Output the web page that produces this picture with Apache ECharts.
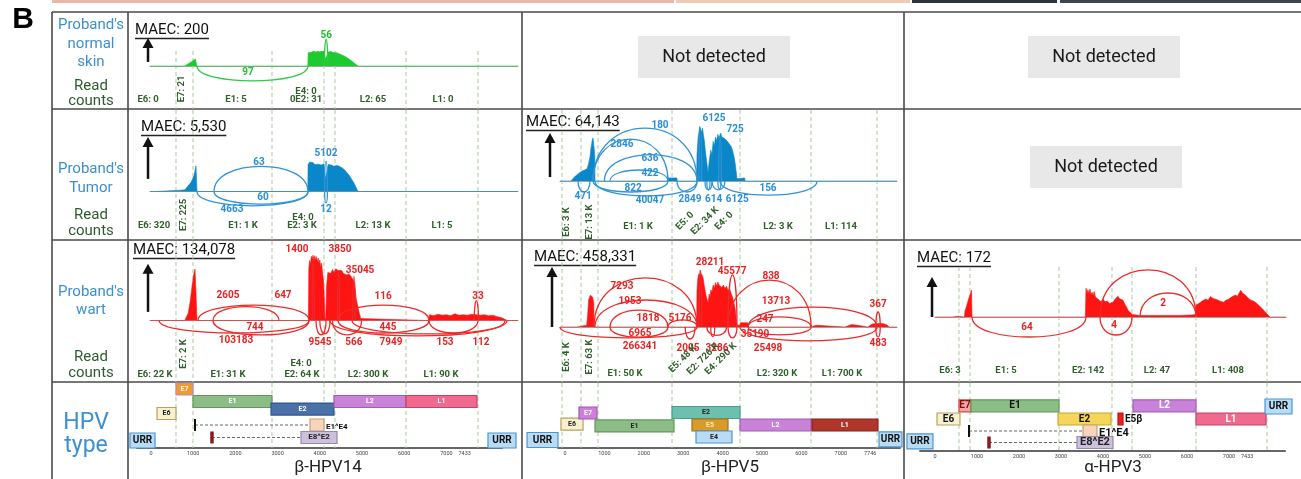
<!DOCTYPE html>
<html>
<head>
<meta charset="utf-8">
<script src="https://cdn.jsdelivr.net/npm/echarts@6/dist/echarts.min.js"></script>
<style>
html, body { margin: 0; padding: 0; background: #fff; }
#chart { width: 1301px; height: 479px; }
</style>
</head>
<body>
<div id="chart"></div>
<script>
// ---------- data (genome position in bp, coverage / arc height in % of MAEC arrow) ----------

// dashed exon boundaries per genome
var guides14 = [592, 995, 2867, 4100, 4360, 6043, 7749];
var guides5 = [-76, 406, 838, 2716, 4442, 6244, 7919];
var guides3 = [571, 833, 2952, 4214, 4690, 6214, 7905];

// coverage profiles [pos, height]
var covSkin14 = [[-24,0],[800,0],[850,6],[950,17],[1050,29],[1075,34],[1090,0],[3715,0],[3725,55],[3760,60],[3800,57],[3850,62],[3900,58],[3950,61],[4000,59],[4050,62],[4100,60],[4130,30],[4160,40],[4200,58],[4260,60],[4320,56],[4400,55],[4500,48],[4600,40],[4700,28],[4800,15],[4905,0],[8697,0]];
var covTumor14 = [[-24,0],[95,0],[100,2],[700,3],[806,4],[850,10],[950,22],[1020,38],[1066,61],[1090,0],[3715,0],[3722,64],[3760,70],[3800,66],[3840,69],[3880,64],[3920,68],[3960,65],[4000,68],[4040,63],[4100,66],[4130,30],[4165,45],[4200,64],[4240,61],[4280,63],[4330,60],[4400,62],[4450,61],[4500,58],[4550,55],[4600,50],[4650,44],[4700,38],[4750,30],[4800,22],[4850,12],[4905,0],[8697,0]];
var covWart14 = [[-24,0],[800,0],[830,4],[880,15],[930,40],[970,70],[1010,95],[1043,107],[1065,60],[1090,0],[3730,0],[3740,110],[3760,125],[3780,118],[3800,134],[3820,128],[3840,136],[3860,124],[3880,135],[3900,126],[3920,133],[3940,122],[3960,130],[3980,118],[4000,126],[4020,112],[4040,120],[4066,116],[4090,80],[4110,40],[4125,5],[4140,0],[4145,0],[4160,70],[4190,100],[4218,104],[4260,98],[4300,106],[4340,100],[4380,108],[4431,104],[4470,100],[4520,104],[4560,98],[4597,101],[4640,95],[4690,97],[4739,92],[4780,86],[4818,80],[4840,64],[4858,48],[4890,34],[4913,24],[4940,14],[4970,4],[4990,0],[6570,0],[6600,12],[6700,10],[6800,13],[6900,11],[7000,12],[7100,10],[7200,14],[7300,11],[7400,12],[7500,11],[7600,13],[7700,12],[7800,11],[7900,12],[8000,10],[8100,11],[8200,8],[8300,6],[8350,4],[8440,0],[8697,0]];
var covTumor5 = [[-127,0],[150,0],[170,4],[250,10],[330,16],[420,22],[500,25],[560,28],[600,40],[635,55],[660,75],[690,92],[711,98],[740,95],[755,60],[761,0],[2600,0],[2610,7],[2840,7],[2850,0],[3340,0],[3350,60],[3380,100],[3420,124],[3450,127],[3470,110],[3490,120],[3520,100],[3540,90],[3560,70],[3600,40],[3630,20],[3660,45],[3700,70],[3730,60],[3760,90],[3790,80],[3820,100],[3850,92],[3880,106],[3910,98],[3950,109],[3980,100],[4020,104],[4060,96],[4100,98],[4140,88],[4180,90],[4220,78],[4250,70],[4290,55],[4320,40],[4365,5],[4370,7],[4560,7],[4570,0],[8426,0]];
var covWart5 = [[-127,0],[300,0],[305,3],[550,3],[560,5],[575,20],[600,45],[640,53],[700,50],[730,40],[736,0],[3340,0],[3350,60],[3370,80],[3390,88],[3410,84],[3430,95],[3450,90],[3470,92],[3490,85],[3510,80],[3530,70],[3560,60],[3580,52],[3600,50],[3630,40],[3660,55],[3680,48],[3700,62],[3730,58],[3760,70],[3790,64],[3820,74],[3850,68],[3880,75],[3910,70],[3950,73],[3980,66],[4020,70],[4060,64],[4100,68],[4140,60],[4180,64],[4220,55],[4250,50],[4290,40],[4320,30],[4365,3],[4440,3],[4450,7],[4640,7],[4650,0],[6200,0],[6230,2],[6400,3],[6590,2],[6600,0],[7100,0],[7150,3],[7280,4],[7420,3],[7440,0],[7680,0],[7720,3],[7800,5],[7900,6],[7950,8],[8050,6],[8150,4],[8230,0],[8426,0]];
var covWart3 = [[0,0],[420,0],[429,2],[548,2],[555,0],[700,0],[714,15],[760,30],[800,45],[840,58],[870,67],[881,0],[3580,0],[3595,72],[3620,60],[3640,68],[3665,58],[3690,70],[3715,56],[3740,62],[3765,54],[3790,64],[3820,50],[3857,52],[3890,44],[3929,42],[3960,38],[4000,45],[4050,38],[4100,40],[4150,34],[4238,37],[4280,44],[4300,45],[4357,52],[4390,46],[4420,45],[4476,42],[4520,32],[4560,25],[4600,16],[4640,11],[4700,6],[4800,5],[4880,4],[5200,4],[5500,4],[5800,4],[6100,5],[6200,6],[6214,30],[6260,34],[6300,35],[6360,40],[6400,38],[6450,45],[6500,42],[6560,51],[6620,46],[6700,44],[6780,40],[6870,37],[6930,42],[7000,45],[7060,50],[7150,55],[7200,52],[7280,67],[7320,60],[7350,58],[7400,54],[7450,48],[7520,42],[7580,40],[7650,35],[7720,28],[7800,20],[7900,8],[7976,0],[8357,0]];

// splice junction arcs [from, to, apex height, read count, label pos, label height]
var arcsSkin14 = [[1090,3720,-62,'97',2299,-25],[4110,4190,112,'56',4150,129]];
var arcsTumor14 = [[1090,3720,-34,'4663',1919,-44],[1493,3720,60,'63',2559,70],[1493,3720,-30,'60',2654,-15],[4115,4180,72,'5102',4147,91],[4115,4180,-27,'12',4147,-44]];
var arcsWart14 = [[1114,3744,32,'2605',1825,53],[1469,3033,29,'647',3128,53],[1469,3744,-30,'744',2464,-14],[190,3744,-26,'103183',2014,-41],[3820,3870,130,'1400',3460,147],[4420,4470,100,'3850',4479,147],[4780,4840,92,'35045',4953,105],[3910,4150,-30,'9545',4005,-45],[4000,4242,-28,'',0,0],[4300,4990,-30,'566',4810,-45],[4431,6588,32,'116',5498,49],[4431,6588,-26,'445',5616,-14],[4242,8389,-32,'7949',5687,-45],[6588,7749,-26,'153',6967,-45],[4763,8436,-28,'112',7820,-45],[7660,7760,41,'33',7749,51]];
var arcsTumor5 = [[711,3350,120,'180',2411,127],[711,2614,95,'2846',1447,84],[1000,3350,60,'636',2157,52],[1142,2614,25,'422',2157,18],[711,2614,-25,'822',1726,-16],[761,3350,-34,'40047',2157,-45],[330,635,-25,'471',457,-36],[2843,3350,-25,'2849',3173,-41],[3553,3731,-20,'614',3770,-41],[3731,4061,-20,'6125',4370,-41],[3600,3680,-20,'',0,0],[3880,3960,-18,'',0,0],[3934,6396,-32,'156',5152,-16],[3400,3470,120,'6125',3782,143],[3900,3970,100,'725',4315,118]];
var arcsWart5 = [[736,3350,82,'7293',1447,67],[760,3350,45,'1953',1650,42],[1142,2614,28,'1818',2107,15],[1142,2614,-17,'6965',1904,-10],[2614,3350,12,'5176',2919,15],[-127,3350,-18,'266341',1904,-32],[3050,3300,-20,'2005',3122,-35],[3600,4100,-14,'3286',3858,-35],[3700,3800,-16,'',0,0],[3400,3470,90,'28211',3680,107],[4137,4365,87,'45577',4239,93],[4137,4365,-18,'',0,0],[4137,6244,78,'838',5228,85],[4645,7919,33,'13713',5355,42],[4645,6244,17,'247',5076,12],[4645,6244,-13,'35190',4822,-12],[4442,7919,-23,'25498',5152,-35],[7890,8000,25,'367',7944,38],[7890,8000,-17,'483',7944,-27]];
var arcsWart3 = [[881,3595,-50,'64',2190,-25],[3929,4690,-45,'4',4262,-20],[3929,6214,118,'',0,0],[4881,6214,60,'2',5429,35]];

// read counts per region [pos, text, kind]  h = bottom line, h2 = upper line, v = vertical, d = slanted
var countsSkin14 = [[-71,'E6: 0','h'],[735,'E7: 21','v'],[2014,'E1: 5','h'],[3673,'E4: 0','h2'],[3673,'0E2: 31','h'],[5261,'L2: 65','h'],[6919,'L1: 0','h']];
var countsTumor14 = [[71,'E6: 320','h'],[782,'E7: 225','v'],[2180,'E1: 1 K','h'],[3602,'E4: 0','h2'],[3578,'E2: 3 K','h'],[5261,'L2: 13 K','h'],[6896,'L1: 5','h']];
var countsWart14 = [[95,'E6: 22 K','h'],[782,'E7: 2 K','v'],[1825,'E1: 31 K','h'],[3555,'E4: 0','h2'],[3578,'E2: 64 K','h'],[5142,'L2: 300 K','h'],[6872,'L1: 90 K','h']];
var countsTumor5 = [[51,'E6: 3 K','v'],[635,'E7: 13 K','v'],[1853,'E1: 1 K','h'],[3046,'E5: 0','d'],[3553,'E2: 34 K','d'],[4036,'E4: 0','d'],[5406,'L2: 3 K','h'],[7005,'L1: 114','h']];
var countsWart5 = [[51,'E6: 4 K','v'],[635,'E7: 63 K','v'],[1523,'E1: 50 K','h'],[2995,'E5: 48 K','d'],[3503,'E2: 726 K','d'],[3959,'E4: 290 K','d'],[5381,'L2: 320 K','h'],[7030,'L1: 700 K','h']];
var countsWart3 = [[357,'E6: 3','h'],[1690,'E1: 5','h'],[3643,'E2: 142','h'],[5286,'L2: 47','h'],[6976,'L1: 408','h']];

// genome maps [name, start, end, lane]
var genes14 = [['E7',592,995,0.5],['E1',995,2867,1.54],['E2',2844,4336,2.17],['L2',4336,6043,1.54],['L1',6043,7725,1.54],['E6',142,592,2.54],['URR',-498,95,4.79],['URR',7986,8650,4.79]];
var genes5 = [['E6',-102,457,3.42],['E7',355,812,2.5],['E1',761,2766,3.58],['E2',2716,4442,2.46],['E5',3223,4137,3.5],['E4',3325,4239,4.5],['L2',4442,6244,3.5],['L1',6269,7944,3.5],['URR',-964,-178,4.75],['URR',7970,8553,4.7]];
var genes3 = [['E7',571,857,1.9],['E1',857,2952,1.9],['E6',48,595,3.0],['E2',2929,4190,3.0],['E5β',4357,4476,3.0],['L2',4714,6214,1.9],['L1',6214,7881,3.0],['URR',7857,8500,1.96],['URR',-667,-48,4.87]];
// spliced transcripts [name, first exon pos, box start, box end, lane]
var junc14 = [['E1^E4',1043,3768,4100,3.5],['E8^E2',1445,3555,4408,4.54]];
var junc5 = [];
var junc3 = [['E1^E4',810,3524,3857,4.0],['E8^E2',1286,3381,4238,4.96]];

var ticks14 = [0,1000,2000,3000,4000,5000,6000,7000,7433];
var ticks5 = [0,1000,2000,3000,4000,5000,6000,7000,7746];
var ticks3 = [0,1000,2000,3000,4000,5000,6000,7000,7433];

// ---------- styles ----------
var FONT = 'Roboto, sans-serif';
var green = {fill: '#1fca30', arc: '#2ecb40', text: '#1fbf30'};
var blue = {fill: '#0a87c8', arc: '#2f95d8', text: '#2a8fd8'};
var red = {fill: '#ff1414', arc: '#ee2a2a', text: '#e82222'};
var countColor = '#2f5f2a';

// [fill, stroke, text colour, label placement]
var URRSTYLE = ['#b9dcf4', '#4a96d2', '#111', 'in'];
var geneStyle14 = {E7: ['#f39a2a', '#b88ac8', '#fff', 'in'], E1: ['#8dbd86', '#5f9a58', '#fff', 'in'], E2: ['#4a72a8', '#2f568c', '#fff', 'in'],
  L2: ['#c883d8', '#a45cb8', '#fff', 'in'], L1: ['#f0698e', '#c94068', '#fff', 'in'], E6: ['#f7f1cf', '#b8a060', '#222', 'in'], URR: URRSTYLE,
  'E1^E4': ['#f8d4b8', '#c8a080', '#111', 'right', '#111', 2], 'E8^E2': ['#cdc0dc', '#9a88b0', '#222', 'in', '#8b1a1a', 3.5]};
var geneStyle5 = {E6: ['#f7f1cf', '#b8a060', '#222', 'in'], E7: ['#cc80d8', '#a458b8', '#fff', 'in'], E1: ['#8dbd86', '#5f9a58', '#222', 'in'],
  E2: ['#6cc0b0', '#4a9e90', '#222', 'in'], E5: ['#d89b2a', '#a87010', '#f8e8b8', 'in'], E4: ['#b9dcf4', '#4a96d2', '#222', 'in'],
  L2: ['#c883d8', '#a45cb8', '#fff', 'in'], L1: ['#b0362c', '#8a2018', '#fff', 'in'], URR: URRSTYLE};
var geneStyle3 = {E7: ['#f4a3a3', '#d04848', '#7a1010', 'in'], E1: ['#8dbd86', '#5f9a58', '#111', 'in'], E6: ['#f7f1cf', '#b8a060', '#111', 'in'],
  E2: ['#f5d65a', '#c8a830', '#111', 'in'], 'E5β': ['#e82020', '#c01010', '#111', 'right'], L2: ['#c883d8', '#a45cb8', '#fff', 'in'],
  L1: ['#f0698e', '#c94068', '#fff', 'in'], URR: URRSTYLE,
  'E1^E4': ['#f8d4b8', '#c8a080', '#111', 'right', '#111', 2], 'E8^E2': ['#cdc0dc', '#9a88b0', '#222', 'in', '#8b1a1a', 3.5]};

// ---------- layout ----------
var cols = [
  {left: 150, width: 368, min: -24, max: 8697, guides: guides14,
   gene: {left: 137, width: 365, min: -332, max: 8318, axisY: 448, genes: genes14, junc: junc14, style: geneStyle14, ticks: ticks14, font: 7}},
  {left: 560, width: 337, min: -127, max: 8426, guides: guides5,
   gene: {left: 558, width: 342, min: -178, max: 8503, axisY: 448, genes: genes5, junc: junc5, style: geneStyle5, ticks: ticks5, font: 7}},
  {left: 935, width: 351, min: 0, max: 8357, guides: guides3,
   gene: {left: 920, width: 365, min: -357, max: 8333, axisY: 451, genes: genes3, junc: junc3, style: geneStyle3, ticks: ticks3, font: 10}}
];
var GENE_TOP = 383, LANE = 12;

var panels = [
  {col: 0, top: 51, bottom: 109, base: 66, ppu: 0.24, pal: green, arrow: [-71, 17], cov: covSkin14, arcs: arcsSkin14, counts: countsSkin14, cnt: {h: 9, h2: 17, v: 20}},
  {col: 0, top: 110, bottom: 240, base: 191.5, ppu: 0.42, pal: blue, arrow: [-71, 30], cov: covTumor14, arcs: arcsTumor14, counts: countsTumor14, cnt: {h: 14, h2: 22.5, v: 25}},
  {col: 0, top: 241, bottom: 382, base: 320.5, ppu: 0.48, pal: red, arrow: [-71, 18], cov: covWart14, arcs: arcsWart14, counts: countsWart14, cnt: {h: 7, h2: 18, v: 28}},
  {col: 1, top: 110, bottom: 240, base: 181, ppu: 0.44, pal: blue, arrow: [-381, 9], cov: covTumor5, arcs: arcsTumor5, counts: countsTumor5, cnt: {h: 13, d: 19, v: 18}},
  {col: 1, top: 241, bottom: 382, base: 327, ppu: 0.6, pal: red, arrow: [-330, 0], cov: covWart5, arcs: arcsWart5, counts: countsWart5, cnt: {h: 8, d: 23, v: 25}},
  {col: 2, top: 267, bottom: 382, base: 317, ppu: 0.4, pal: red, arrow: [-71, 0], cov: covWart3, arcs: arcsWart3, counts: countsWart3, cnt: {h: 11}}
];

// ---------- render helpers ----------
function guideRender(list) {
  return function (params, api) {
    var cs = params.coordSys;
    var x = api.coord([list[params.dataIndex], 0])[0];
    return {type: 'line', shape: {x1: x, y1: cs.y, x2: x, y2: cs.y + cs.height},
      style: {stroke: '#a9c9a1', lineWidth: 1, lineDash: [4, 3]}};
  };
}

function arcRender(list, pal) {
  return function (params, api) {
    var a = list[params.dataIndex];
    var p0 = api.coord([a[0], 0]), p1 = api.coord([a[1], 0]);
    var top = api.coord([(a[0] + a[1]) / 2, a[2]]);
    var cy = p0[1] + (top[1] - p0[1]) / 0.75;
    var kids = [{type: 'bezierCurve',
      shape: {x1: p0[0], y1: p0[1], x2: p1[0], y2: p1[1], cpx1: p0[0], cpy1: cy, cpx2: p1[0], cpy2: cy},
      style: {stroke: pal.arc, fill: null, lineWidth: 1.3}}];
    if (a[3]) {
      var lp = api.coord([a[4], a[5]]);
      kids.push({type: 'text', z2: 10, style: {text: a[3], x: lp[0], y: lp[1], align: 'center', verticalAlign: 'middle',
        fill: pal.text, font: 'bold 10px ' + FONT}});
    }
    return {type: 'group', children: kids};
  };
}

function countRender(list, cfg) {
  return function (params, api) {
    var d = list[params.dataIndex];
    var cs = params.coordSys;
    var x = api.coord([d[0], 0])[0];
    var y = cs.y + cs.height - cfg[d[2]];
    var rot = d[2] === 'v' ? Math.PI / 2 : (d[2] === 'd' ? Math.PI / 4 : 0);
    return {type: 'text', x: x, y: y, rotation: rot,
      style: {text: d[1], x: 0, y: 0, align: 'center', verticalAlign: 'middle', fill: countColor, font: 'bold 9.5px ' + FONT}};
  };
}

function arrowRender(spec) {
  return function (params, api) {
    var b = api.coord([spec[0], spec[1]]), t = api.coord([spec[0], spec[1] + 100]);
    return {type: 'group', children: [
      {type: 'line', shape: {x1: b[0], y1: b[1], x2: t[0], y2: t[1] + 8}, style: {stroke: '#111', lineWidth: 2.5}},
      {type: 'polygon', shape: {points: [[t[0], t[1]], [t[0] - 5.5, t[1] + 10], [t[0] + 5.5, t[1] + 10]]}, style: {fill: '#111'}}
    ]};
  };
}

function geneRender(list, style, fs) {
  return function (params, api) {
    var g = list[params.dataIndex];
    var st = style[g[0]];
    var isUrr = g[0] === 'URR';
    var p0 = api.coord([g[1], g[3]]), p1 = api.coord([g[2], g[3]]);
    var h = api.size([0, 1])[1] * (isUrr ? 1.25 : 1);
    var right = st[3] === 'right';
    return {type: 'group', children: [
      {type: 'rect', shape: {x: p0[0], y: p0[1] - h / 2, width: p1[0] - p0[0], height: h},
        style: {fill: st[0], stroke: st[1], lineWidth: 1.2}},
      {type: 'text', z2: 10, style: {text: g[0], x: right ? p1[0] + 2 : (p0[0] + p1[0]) / 2, y: p0[1],
        align: right ? 'left' : 'center', verticalAlign: 'middle', fill: st[2],
        font: 'bold ' + (isUrr ? 10 : fs) + 'px ' + FONT}}
    ]};
  };
}

function juncRender(list, style, fs) {
  return function (params, api) {
    var j = list[params.dataIndex];
    var st = style[j[0]];
    var pt = api.coord([j[1], j[4]]), p0 = api.coord([j[2], j[4]]), p1 = api.coord([j[3], j[4]]);
    var h = api.size([0, 1])[1];
    var right = st[3] === 'right';
    return {type: 'group', children: [
      {type: 'line', shape: {x1: pt[0], y1: pt[1], x2: p0[0], y2: pt[1]}, style: {stroke: '#666', lineWidth: 1, lineDash: [3, 2]}},
      {type: 'rect', shape: {x: pt[0] - st[5] / 2, y: pt[1] - h / 2, width: st[5], height: h}, style: {fill: st[4]}},
      {type: 'rect', shape: {x: p0[0], y: p0[1] - h / 2, width: p1[0] - p0[0], height: h}, style: {fill: st[0], stroke: st[1], lineWidth: 1.2}},
      {type: 'text', z2: 10, style: {text: j[0], x: right ? p1[0] + 2 : (p0[0] + p1[0]) / 2, y: p0[1] + (right ? 2 : 0),
        align: right ? 'left' : 'center', verticalAlign: 'middle', fill: st[2], font: 'bold ' + (fs + 1) + 'px ' + FONT}}
    ]};
  };
}

// ---------- build option ----------
var grids = [], xAxes = [], yAxes = [], series = [];

panels.forEach(function (p) {
  var c = cols[p.col];
  var gi = grids.length;
  grids.push({left: c.left, top: p.top, width: c.width, height: p.bottom - p.top});
  xAxes.push({type: 'value', gridIndex: gi, min: c.min, max: c.max,
    axisLine: {show: true, onZero: true, lineStyle: {color: '#a0a0a0', width: 1}},
    axisTick: {show: false}, axisLabel: {show: false}, splitLine: {show: false}});
  yAxes.push({type: 'value', gridIndex: gi, min: -(p.bottom - p.base) / p.ppu, max: (p.base - p.top) / p.ppu,
    axisLine: {show: false}, axisTick: {show: false}, axisLabel: {show: false}, splitLine: {show: false}});
  var ax = {xAxisIndex: gi, yAxisIndex: gi};
  series.push(Object.assign({type: 'custom', z: 1, silent: true, renderItem: guideRender(c.guides),
    data: c.guides.map(function (g) { return [g, 0]; })}, ax));
  series.push(Object.assign({type: 'line', z: 2, silent: true, symbol: 'none', data: p.cov,
    lineStyle: {color: p.pal.fill, width: 0.6}, areaStyle: {color: p.pal.fill, opacity: 1}}, ax));
  series.push(Object.assign({type: 'custom', z: 3, silent: true, renderItem: arcRender(p.arcs, p.pal),
    data: p.arcs.map(function (a) { return [a[0], a[2]]; })}, ax));
  series.push(Object.assign({type: 'custom', z: 4, silent: true, renderItem: countRender(p.counts, p.cnt),
    data: p.counts.map(function (d) { return [d[0], 0]; })}, ax));
  series.push(Object.assign({type: 'custom', z: 4, silent: true, renderItem: arrowRender(p.arrow),
    data: [[p.arrow[0], p.arrow[1]]]}, ax));
});

cols.forEach(function (c) {
  var g = c.gene;
  var gi = grids.length;
  grids.push({left: g.left, top: GENE_TOP, width: g.width, height: g.axisY - GENE_TOP});
  xAxes.push({type: 'value', gridIndex: gi, min: g.min, max: g.max, position: 'bottom',
    axisLine: {show: true, onZero: false, lineStyle: {color: '#666', width: 2}},
    axisTick: {show: false}, splitLine: {show: false},
    axisLabel: {show: true, customValues: g.ticks, fontSize: 5.5, color: '#444', margin: 3, fontFamily: FONT,
      formatter: function (v) { return String(v); }}});
  yAxes.push({type: 'value', gridIndex: gi, min: 0, max: (g.axisY - GENE_TOP) / LANE, inverse: true, show: false});
  var ax = {xAxisIndex: gi, yAxisIndex: gi};
  series.push(Object.assign({type: 'custom', z: 1, silent: true, renderItem: guideRender(c.guides),
    data: c.guides.map(function (v) { return [v, 0]; })}, ax));
  series.push(Object.assign({type: 'custom', z: 3, silent: true, renderItem: geneRender(g.genes, g.style, g.font),
    data: g.genes.map(function (d) { return [d[1], d[3]]; })}, ax));
  if (g.junc.length) {
    series.push(Object.assign({type: 'custom', z: 3, silent: true, renderItem: juncRender(g.junc, g.style, g.font),
      data: g.junc.map(function (d) { return [d[2], d[4]]; })}, ax));
  }
});

// ---------- frame, headings and plain text ----------
var ctx = document.createElement('canvas').getContext('2d');
function textWidth(t, font) { ctx.font = font; return ctx.measureText(t).width; }

var graphic = [];
function line(x1, y1, x2, y2, w, col) {
  graphic.push({type: 'line', silent: true, shape: {x1: x1, y1: y1, x2: x2, y2: y2}, style: {stroke: col || '#4a4a4a', lineWidth: w || 1.6}});
}
function text(t, x, y, font, fill, align) {
  graphic.push({type: 'text', silent: true, style: {text: t, x: x, y: y, font: font, fill: fill, align: align || 'center', verticalAlign: 'middle'}});
}

// photo strip remnant at the very top
[[52, 674, '#eab8a8'], [676, 910, '#efcbb6'], [912, 1057, '#2b3445'], [1060, 1301, '#3a4452']].forEach(function (s) {
  graphic.push({type: 'rect', silent: true, shape: {x: s[0], y: 0, width: s[1] - s[0], height: 3}, style: {fill: s[2]}});
});

line(52, 12, 1301, 12);
[109, 240, 382].forEach(function (y) { line(52, y, 1301, y); });
[52, 128, 522, 904].forEach(function (x) { line(x, 12, x, 479); });

text('B', 23, 20, 'bold 30px "Liberation Sans", Arial, sans-serif', '#000');

var rowLabels = [
  ["Proband's", 25, 'b'], ['normal', 44, 'b'], ['skin', 62, 'b'], ['Read', 86, 'g'], ['counts', 101, 'g'],
  ["Proband's", 169, 'b'], ['Tumor', 188, 'b'], ['Read', 215, 'g'], ['counts', 231, 'g'],
  ["Proband's", 292, 'b'], ['wart', 310, 'b'], ['Read', 357, 'g'], ['counts', 373, 'g']
];
rowLabels.forEach(function (r) {
  text(r[0], 91, r[1], '15px ' + FONT, r[2] === 'b' ? '#3b8fd4' : '#2e5b2e');
});
text('HPV', 86, 423, '23px ' + FONT, '#3b8fd4');
text('type', 86, 446, '23px ' + FONT, '#3b8fd4');

var maec = [['MAEC: 200', 135, 30], ['MAEC: 5,530', 141, 127], ['MAEC: 134,078', 133, 250],
  ['MAEC: 64,143', 526, 122], ['MAEC: 458,331', 534, 257], ['MAEC: 172', 917, 258]];
maec.forEach(function (m) {
  var f = '15px ' + FONT;
  text(m[0], m[1], m[2], f, '#111', 'left');
  line(m[1], m[2] + 8.5, m[1] + textWidth(m[0], f), m[2] + 8.5, 1.3, '#222');
});

[[638, 36], [1028, 36], [1030, 146]].forEach(function (b) {
  graphic.push({type: 'rect', silent: true, shape: {x: b[0], y: b[1], width: 152, height: 42}, style: {fill: '#e8e8e8'}});
  text('Not detected', b[0] + 76, b[1] + 21, '18px ' + FONT, '#1a1a1a');
});

text('β-HPV14', 328, 468, '17px ' + FONT, '#222');
text('β-HPV5', 730, 468, '17px ' + FONT, '#222');
text('α-HPV3', 1113, 468, '17px ' + FONT, '#222');

var chart = echarts.init(document.getElementById('chart'));
chart.setOption({
  animation: false,
  backgroundColor: '#fff',
  grid: grids,
  xAxis: xAxes,
  yAxis: yAxes,
  series: series,
  graphic: graphic
});
</script>
</body>
</html>
